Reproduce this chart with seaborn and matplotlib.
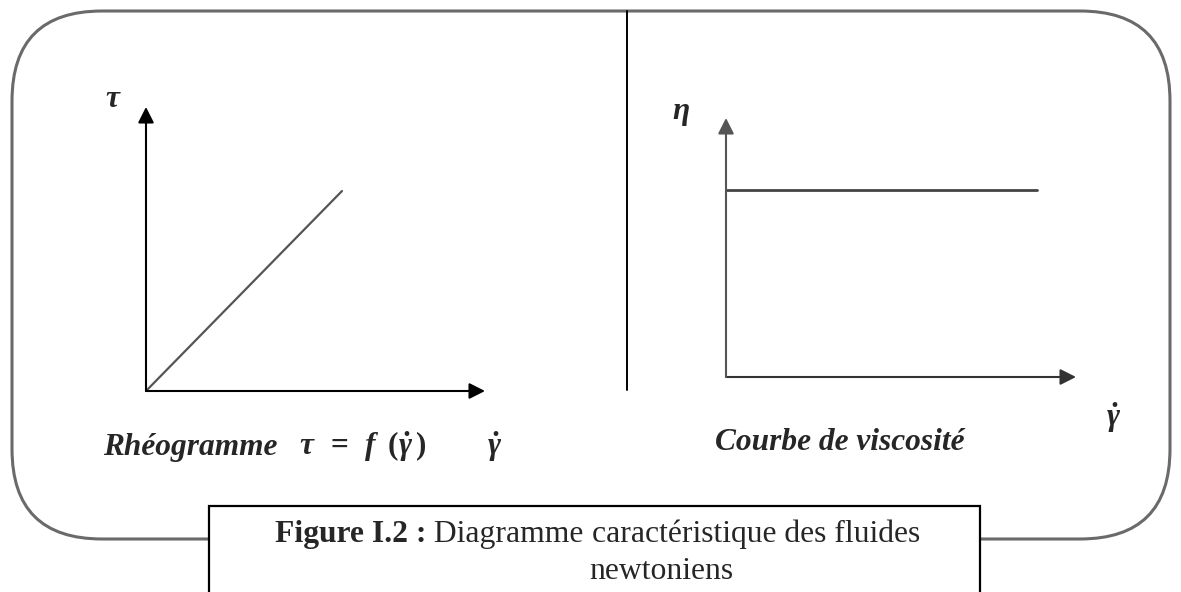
import matplotlib
matplotlib.use("Agg")
import matplotlib.pyplot as plt
from matplotlib.patches import FancyBboxPatch, Rectangle
import seaborn as sns
import pandas as pd

# ---------------- data ----------------
# Left panel: rheogram tau = f(gamma_dot), straight line through origin
rheo_shear_rate = [0.0, 1.0]
rheo_shear_stress = [0.0, 1.0]
# Right panel: viscosity curve, constant viscosity
visc_shear_rate = [0.0, 1.0]
visc_viscosity = [1.0, 1.0]

label_tau = r"$\tau$"
label_eta = r"$\eta$"
label_gamma = r"$\dot{\gamma}$"
title_left = "Rhéogramme"
title_left_eq = r"$\tau\ \,=\ \,f\ \,(\dot{\gamma}\,)$"
title_right = "Courbe de viscosité"
caption_bold = "Figure I.2 :"
caption_mid = " Diagramme "
caption_rest = "caractéristique des fluides"
caption_line2 = "newtoniens"

# ---------------- style ----------------
sns.set_style("white")
plt.rcParams["font.family"] = ["Liberation Serif", "DejaVu Serif"]
plt.rcParams["mathtext.fontset"] = "custom"
plt.rcParams["mathtext.rm"] = "Liberation Serif:bold"
plt.rcParams["mathtext.it"] = "Liberation Serif:bold:italic"
plt.rcParams["mathtext.bf"] = "Liberation Serif:bold"

W, H = 1181, 592
fig = plt.figure(figsize=(W / 100, H / 100), dpi=100)
fig.patch.set_facecolor("white")

# background axes in pixel coordinates for decorations
bg = fig.add_axes([0, 0, 1, 1])
bg.set_xlim(0, W)
bg.set_ylim(H, 0)
bg.axis("off")

FS = 22.6  # pt
FSC = 22.8  # caption

# rounded outer frame
frame = FancyBboxPatch((12, 11), 1158, 528,
                       boxstyle="round,pad=0,rounding_size=90",
                       facecolor="none", edgecolor="#6a6a6a", lw=2.2, zorder=1)
bg.add_patch(frame)
# divider
bg.plot([627, 627], [11, 390], color="black", lw=1.4, zorder=2)
# caption box
bg.add_patch(Rectangle((209, 506), 771, 120, facecolor="white",
                       edgecolor="black", lw=1.6, zorder=3))

def panel(rect_px):
    x0, y0, x1, y1 = rect_px
    ax = fig.add_axes([x0 / W, (H - y0) / H, (x1 - x0) / W, (y0 - y1) / H])
    ax.axis("off")
    return ax

def arrows(ax, color_x="black", color_y="black"):
    kw = dict(xycoords="axes fraction", textcoords="axes fraction",
              annotation_clip=False)
    ap = dict(arrowstyle="-|>,head_length=0.95,head_width=0.48",
              mutation_scale=10, shrinkA=0, shrinkB=0, lw=1.5)
    ax.annotate("", xy=(1, 0), xytext=(0, 0),
                arrowprops=dict(ap, color=color_x), **kw)
    ax.annotate("", xy=(0, 1), xytext=(0, 0),
                arrowprops=dict(ap, color=color_y), **kw)

# left panel: origin (146,391), x tip 485, y tip 107
axL = panel((146, 391, 485, 107))
df_l = pd.DataFrame({"gamma": rheo_shear_rate, "tau": rheo_shear_stress})
sns.lineplot(data=df_l, x="gamma", y="tau", ax=axL, color="#555555", lw=1.6)
axL.set_xlim(0, 339 / 196)
axL.set_ylim(0, 284 / 200)
axL.axis("off")
arrows(axL)

# right panel: origin (726,377), x tip 1076, y tip 118
axR = panel((726, 377, 1076, 118))
df_r = pd.DataFrame({"gamma": visc_shear_rate, "eta": visc_viscosity})
sns.lineplot(data=df_r, x="gamma", y="eta", ax=axR, color="#444444", lw=2.0)
axR.set_xlim(0, 350 / 311)
axR.set_ylim(0, 259 / 187)
axR.axis("off")
arrows(axR, color_x="#333333", color_y="#555555")

# labels
bg.text(105, 107, label_tau, fontsize=FS, ha="left", va="baseline", zorder=5)
bg.text(672, 119, label_eta, fontsize=FS, ha="left", va="baseline", zorder=5)
bg.text(103, 455, title_left, fontsize=FS, fontweight="bold", style="italic",
        ha="left", va="baseline", zorder=5)
bg.text(299, 455, title_left_eq, fontsize=FS, ha="left", va="baseline", zorder=5)
bg.text(487, 455, label_gamma, fontsize=FS, ha="left", va="baseline", zorder=5)
bg.text(715, 450, title_right, fontsize=FS, fontweight="bold", style="italic",
        ha="left", va="baseline", zorder=5)
bg.text(1106, 426, label_gamma, fontsize=FS, ha="left", va="baseline", zorder=5)

# caption
t1 = bg.text(275, 542, caption_bold, fontsize=FSC, fontweight="bold",
             ha="left", va="baseline", zorder=5)
t2 = bg.annotate(caption_mid, xy=(1, 0), xycoords=t1, fontsize=FSC,
                 ha="left", va="bottom", zorder=5, annotation_clip=False)
t3 = bg.annotate(caption_rest, xy=(1, 0), xycoords=t2, fontsize=FSC,
                 ha="left", va="bottom", zorder=5, annotation_clip=False)
fig.canvas.draw()
bb3 = t3.get_window_extent()
x_line2 = bg.transData.inverted().transform((bb3.x0, 0))[0]
bg.text(x_line2 - 2, 579, caption_line2, fontsize=FSC, ha="left",
        va="baseline", zorder=5)

fig.savefig("out.png", dpi=100, facecolor="white")
